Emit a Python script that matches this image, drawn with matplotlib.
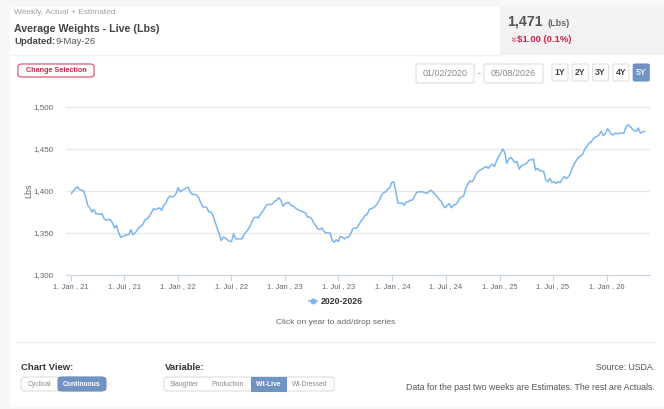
import numpy as np
import pandas as pd
import matplotlib
matplotlib.use("Agg")
import matplotlib.pyplot as plt
from matplotlib.patches import FancyBboxPatch, Rectangle

plt.rcParams['font.family'] = ['Liberation Sans', 'DejaVu Sans']

# weekly live weights (lbs)
start_date = "2021-01-02"
weights = [
    1397, 1400, 1403, 1405, 1402, 1401, 1400, 1393, 1383, 1380,
    1375, 1378, 1373, 1373, 1372, 1373, 1367, 1365, 1366, 1366,
    1362, 1356, 1359, 1351, 1345, 1346, 1347, 1348, 1348, 1354,
    1348, 1350, 1353, 1357, 1358, 1361, 1366, 1367, 1370, 1374,
    1379, 1378, 1379, 1380, 1377, 1383, 1385, 1391, 1394, 1393,
    1394, 1397, 1404, 1399, 1401, 1402, 1404, 1404, 1398, 1396,
    1396, 1395, 1392, 1386, 1381, 1381, 1380, 1375, 1375, 1371,
    1363, 1356, 1349, 1341, 1345, 1344, 1342, 1340, 1340, 1349,
    1343, 1343, 1343, 1343, 1348, 1351, 1354, 1358, 1364, 1368,
    1369, 1368, 1372, 1375, 1379, 1383, 1384, 1384, 1385, 1388,
    1389, 1392, 1389, 1382, 1385, 1386, 1386, 1383, 1382, 1380,
    1378, 1377, 1376, 1375, 1374, 1369, 1369, 1367, 1362, 1359,
    1355, 1354, 1356, 1352, 1350, 1350, 1350, 1341, 1339, 1342,
    1340, 1346, 1345, 1343, 1345, 1345, 1349, 1355, 1356, 1356,
    1360, 1364, 1367, 1371, 1372, 1378, 1379, 1380, 1382, 1385,
    1389, 1395, 1398, 1399, 1402, 1404, 1410, 1411, 1399, 1386,
    1385, 1386, 1383, 1387, 1387, 1389, 1389, 1393, 1398, 1399,
    1399, 1399, 1398, 1397, 1399, 1401, 1399, 1396, 1394, 1390,
    1388, 1383, 1380, 1383, 1385, 1380, 1383, 1384, 1386, 1391,
    1393, 1394, 1403, 1408, 1412, 1411, 1414, 1420, 1423, 1425,
    1426, 1428, 1429, 1427, 1430, 1432, 1429, 1436, 1441, 1445,
    1450, 1446, 1433, 1438, 1440, 1437, 1434, 1435, 1426, 1430,
    1431, 1432, 1434, 1437, 1437, 1438, 1425, 1427, 1424, 1424,
    1423, 1413, 1411, 1415, 1410, 1411, 1409, 1411, 1410, 1414,
    1417, 1415, 1417, 1421, 1428, 1433, 1437, 1440, 1442, 1444,
    1450, 1453, 1457, 1458, 1462, 1464, 1465, 1467, 1471, 1466,
    1468, 1474, 1471, 1467, 1467, 1469, 1468, 1469, 1469, 1469,
    1476, 1479, 1477, 1474, 1472, 1471, 1475, 1469, 1470, 1471,
]
dates = pd.date_range(start_date, periods=len(weights), freq="7D")

tick_dates = ["2021-01-01", "2021-07-01", "2022-01-01", "2022-07-01",
              "2023-01-01", "2023-07-01", "2024-01-01", "2024-07-01",
              "2025-01-01", "2025-07-01", "2026-01-01"]
tick_labels = ["1. Jan , 21", "1. Jul , 21", "1. Jan , 22", "1. Jul , 22",
               "1. Jan , 23", "1. Jul , 23", "1. Jan , 24", "1. Jul , 24",
               "1. Jan , 25", "1. Jul , 25", "1. Jan , 26"]
y_ticks = [1300, 1350, 1400, 1450, 1500]
series_name = "2020-2026"
variables = ["Slaughter", "Production", "Wt-Live", "Wt-Dressed"]
views = ["Cyclical", "Continuous"]
ranges = ["1Y", "2Y", "3Y", "4Y", "5Y"]

W, H = 664, 409
BLUE = "#7cb5ec"
BTN = "#6f93c3"
fig = plt.figure(figsize=(W / 100, H / 100), dpi=100)
fig.patch.set_facecolor("#f7f7f7")


def fx(x):
    return x / W


def fy(y):
    return 1 - y / H


def box(x0, y0, x1, y1, fc="white", ec="none", lw=0.8, r=0.0, z=1):
    if r > 0:
        p = FancyBboxPatch((fx(x0), fy(y1)), fx(x1) - fx(x0), fy(y0) - fy(y1),
                           boxstyle=f"round,pad=0,rounding_size={r / W}",
                           transform=fig.transFigure, fc=fc, ec=ec, lw=lw, zorder=z)
    else:
        p = Rectangle((fx(x0), fy(y1)), fx(x1) - fx(x0), fy(y0) - fy(y1),
                      transform=fig.transFigure, fc=fc, ec=ec, lw=lw, zorder=z)
    fig.patches.append(p)


def hline(y, x0, x1, c="#ececec", lw=1.0):
    fig.add_artist(plt.Line2D([fx(x0), fx(x1)], [fy(y), fy(y)],
                              transform=fig.transFigure, color=c, lw=lw, zorder=1))


# card backgrounds (behind the axes)
box(10, 7, 664, 407, fc="white", z=-2)
box(500, 7, 664, 55, fc="#f2f2f2", z=-1)
hline(55, 10, 500, c="#f0f0f0")

# header text
fig.text(fx(14), fy(13), "Weekly, Actual + Estimated", fontsize=6.0, color="#a0a0a0", va="center")
fig.text(fx(14), fy(29), "Average Weights - Live (Lbs)", fontsize=7.7, color="#444444",
         fontweight="bold", va="center")
fig.text(fx(14), fy(42), "Updated:", fontsize=6.8, color="#444444", fontweight="bold", va="center")
fig.text(fx(55), fy(42), "9-May-26", fontsize=6.8, color="#555555", va="center")

fig.text(fx(507), fy(22), "1,471", fontsize=10.2, color="#555555", fontweight="bold", va="center")
fig.text(fx(547), fy(23), "(Lbs)", fontsize=6.5, color="#666666", fontweight="bold", va="center")
fig.text(fx(513), fy(39), "»", fontsize=7, color="#d0214a", rotation=-90, ha="center", va="center")
fig.text(fx(517), fy(39.5), "$1.00 (0.1%)", fontsize=6.8, color="#d0214a", fontweight="bold", va="center")

# change selection button
box(18, 64, 94, 77, fc="white", ec="#d95b75", lw=0.9, r=4)
fig.text(fx(56), fy(70.5), "Change Selection", fontsize=5.2, color="#c8244a",
         fontweight="bold", ha="center", va="center")

# date pickers and range buttons
box(416, 64, 474, 83, fc="white", ec="#dddddd", lw=0.8, r=2)
fig.text(fx(445), fy(73.5), "01/02/2020", fontsize=6.5, color="#888888", ha="center", va="center")
fig.text(fx(479), fy(73.5), "-", fontsize=6.5, color="#888888", ha="center", va="center")
box(484, 64, 543, 83, fc="white", ec="#dddddd", lw=0.8, r=2)
fig.text(fx(513.5), fy(73.5), "05/08/2026", fontsize=6.5, color="#888888", ha="center", va="center")
for i, lab in enumerate(ranges):
    x0 = 552 + i * 20.3
    sel = lab == "5Y"
    box(x0, 64, x0 + 16, 81, fc=BTN if sel else "white",
        ec=BTN if sel else "#e0e0e0", lw=0.8, r=2)
    fig.text(fx(x0 + 8), fy(72.5), lab, fontsize=6.3, ha="center", va="center",
             color="#e8eef7" if sel else "#444444", fontweight="bold")

# chart
ax = fig.add_axes([fx(66), fy(275), fx(650) - fx(66), fy(107) - fy(275)])
ax.set_facecolor("none")
ax.plot(dates, weights, color=BLUE, lw=1.1, zorder=3)
ax.set_ylim(1300, 1500)
ax.set_xlim(pd.Timestamp("2020-12-15"), pd.Timestamp("2026-05-28"))
ax.set_yticks(y_ticks)
ax.set_yticklabels([f"{v:,}" for v in y_ticks])
ax.set_xticks(pd.to_datetime(tick_dates))
ax.set_xticklabels(tick_labels)
ax.grid(axis="y", color="#e6e6e6", lw=0.9)
ax.set_axisbelow(True)
for s in ["top", "right", "left"]:
    ax.spines[s].set_visible(False)
ax.spines["bottom"].set_color("#ccd6eb")
ax.tick_params(axis="y", length=0, labelsize=5.8, labelcolor="#666666", pad=9)
ax.tick_params(axis="x", length=4, color="#ccd6eb", labelsize=5.5, labelcolor="#666666", pad=1.5)
fig.text(fx(29), fy(191), "Lbs", fontsize=6.5, color="#666666", rotation=90,
         ha="center", va="center")

# legend
fig.add_artist(plt.Line2D([fx(309), fx(313), fx(317)], [fy(301)] * 3, transform=fig.transFigure,
                          color=BLUE, lw=1.2, marker="o", markersize=3.2, markevery=[1]))
fig.text(fx(321), fy(301), series_name, fontsize=6.3, color="#333333", fontweight="bold", va="center")
fig.text(fx(336), fy(323), "Click on year to add/drop series", fontsize=6, color="#666666",
         ha="center", va="center")
hline(342, 17, 655, c="#ececec")

# bottom controls
fig.text(fx(21), fy(367), "Chart View:", fontsize=6.8, color="#333333", fontweight="bold", va="center")
box(21, 377, 106, 391, fc="white", ec="#dddddd", lw=0.8, r=5)
box(58, 377, 106, 391, fc=BTN, ec=BTN, lw=0.8, r=5)
box(58, 377, 66, 391, fc=BTN, ec="none")
fig.text(fx(39.5), fy(384), views[0], fontsize=4.9, color="#888888", ha="center", va="center")
fig.text(fx(82), fy(384), views[1], fontsize=4.9, color="white", fontweight="bold",
         ha="center", va="center")

fig.text(fx(165), fy(367), "Variable:", fontsize=6.8, color="#333333", fontweight="bold", va="center")
box(164, 377, 334, 391, fc="white", ec="#dddddd", lw=0.8, r=5)
var_x = [(164, 205), (205, 251), (251, 286), (286, 334)]
for (x0, x1), lab in zip(var_x, variables):
    sel = lab == "Wt-Live"
    if sel:
        box(x0, 377, x1, 391, fc=BTN, ec=BTN, lw=0.8)
    fig.text(fx((x0 + x1) / 2), fy(384), lab, fontsize=4.9, ha="center", va="center",
             color="white" if sel else "#888888", fontweight="bold" if sel else "normal")

fig.text(fx(655), fy(367), "Source: USDA.", fontsize=6.3, color="#555555", ha="right", va="center")
fig.text(fx(655), fy(387), "Data for the past two weeks are Estimates. The rest are Actuals.",
         fontsize=6.3, color="#555555", ha="right", va="center")

fig.savefig("out.png", dpi=100, facecolor=fig.get_facecolor())
